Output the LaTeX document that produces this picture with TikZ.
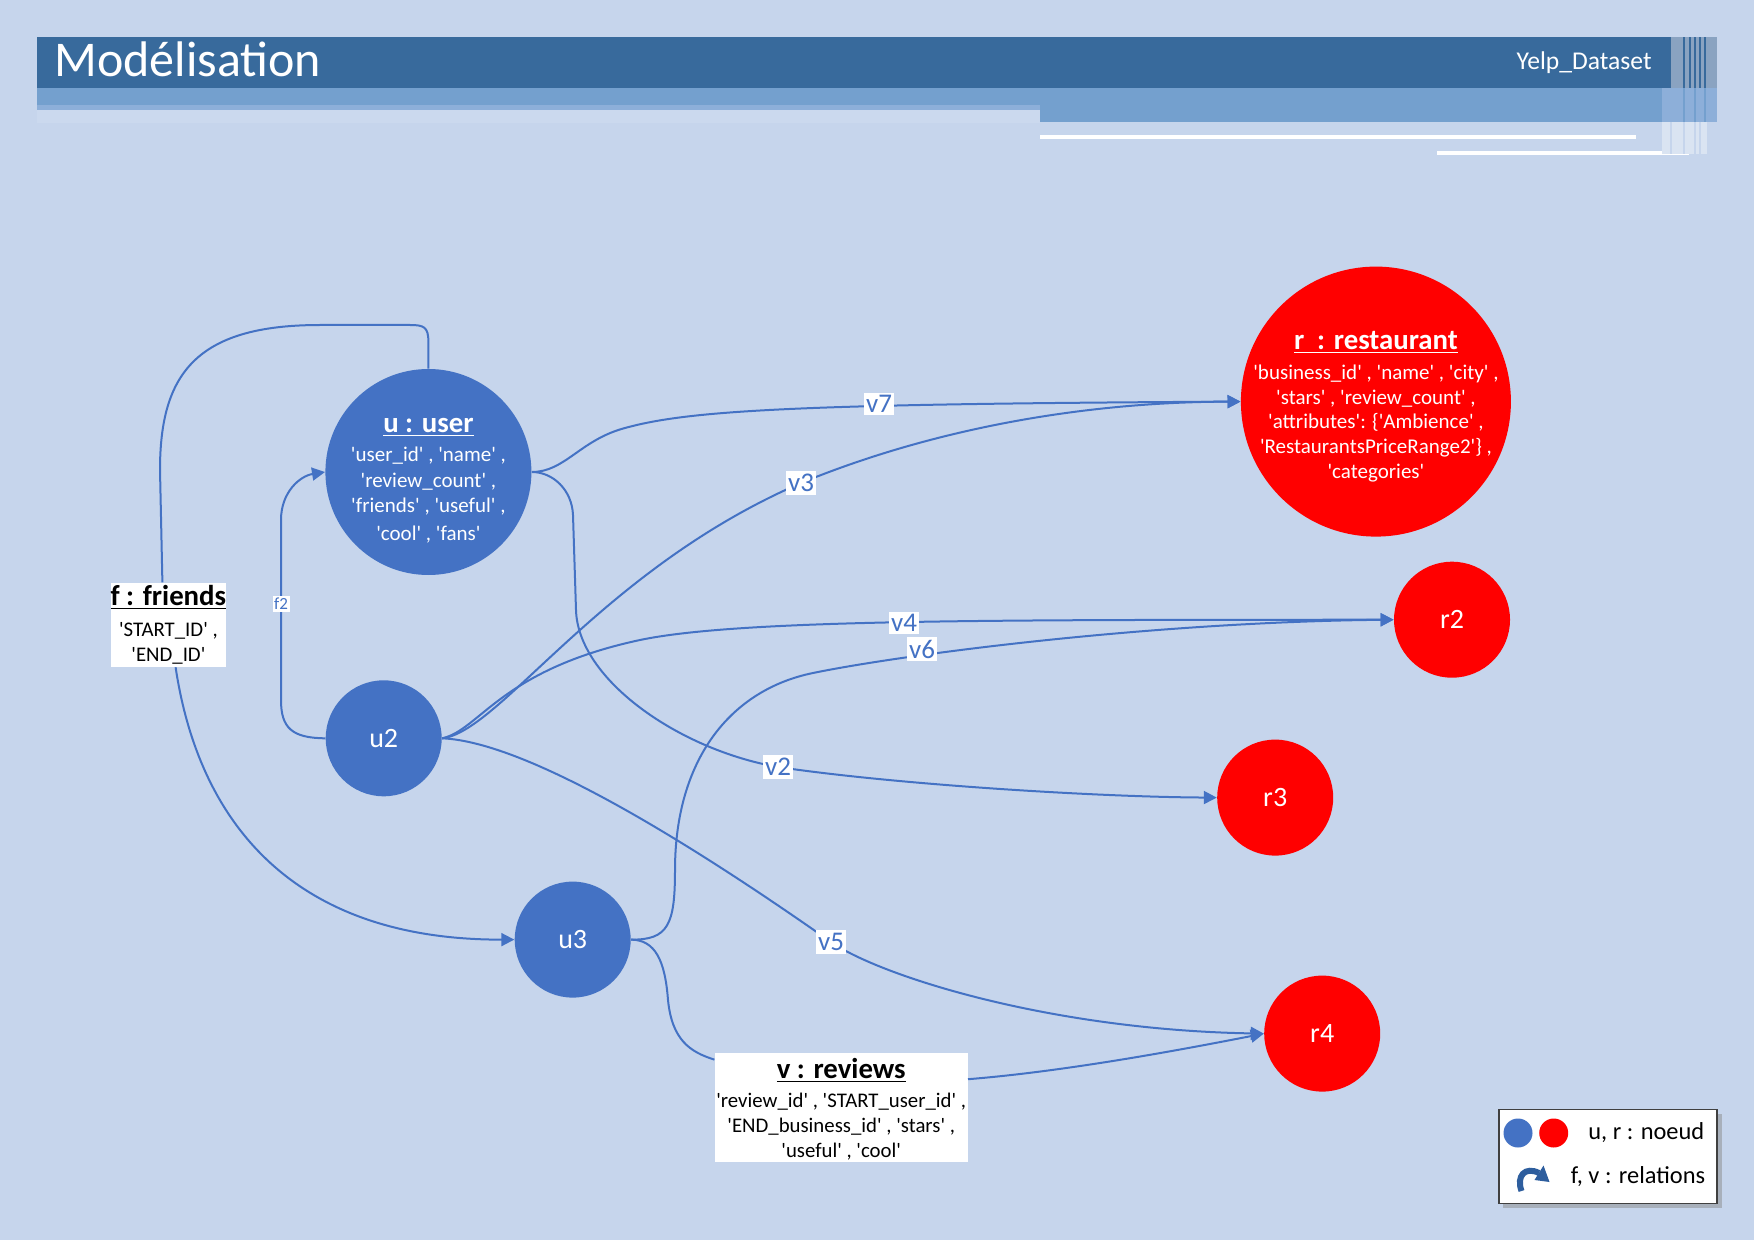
\documentclass[tikz,border=0pt]{standalone}
\usepackage{fontspec}
\setmainfont{Carlito}
\usetikzlibrary{arrows.meta}
\definecolor{bg}{HTML}{C6D5EC}
\definecolor{hdark}{HTML}{386A9C}
\definecolor{hmid}{HTML}{74A0CE}
\definecolor{hthin}{HTML}{8DAFD9}
\definecolor{hlight}{HTML}{CBD9EE}
\definecolor{stripe}{HTML}{8AA3C1}
\definecolor{stripelight}{HTML}{DAE4F2}
\definecolor{ublue}{HTML}{4472C4}
\definecolor{rred}{HTML}{FF0000}
\definecolor{ecol}{HTML}{4472C4}
\definecolor{iconcol}{HTML}{2E5E9E}
\newcommand{\squote}[1]{\textquotesingle#1\textquotesingle}
\newcommand{\mytitle}[1]{{\fontsize{14.4}{17}\selectfont\bfseries\underline{#1}}}
\tikzset{
  unode/.style={circle, fill=ublue, text=white, inner sep=-4pt, align=center, font=\fontsize{10.5}{12.8}\selectfont},
  rnode/.style={circle, fill=rred, text=white, inner sep=-8pt, align=center, font=\fontsize{10.5}{12.35}\selectfont},
  smallnode/.style={circle, inner sep=0pt, minimum size=58pt, text=white, font=\fontsize{14}{16}\selectfont},
  boxnode/.style={rectangle, fill=white, text=black, inner sep=0pt, align=center, font=\fontsize{10.4}{12.6}\selectfont},
  elabel/.style={fill=white, text=ecol, inner xsep=1.2pt, inner ysep=1.4pt, font=\fontsize{13.5}{15}\selectfont},
  rel/.style={draw=ecol, line width=1pt},
  arr/.style={rel, -{Triangle[length=6.5pt,width=6.5pt]}},
  legtext/.style={anchor=west, inner sep=0pt, text=black, font=\fontsize{12.2}{14}\selectfont}
}
\begin{document}
\begin{tikzpicture}[x=0.5pt,y=-0.5pt]
\useasboundingbox (0,0) rectangle (1754,1240);
\fill[bg] (0,0) rectangle (1754,1240);

% header
\fill[hdark] (37,37) rectangle (1717,88);
\fill[hmid] (37,88) rectangle (1717,105);
\fill[hmid] (1040,105) rectangle (1717,122.5);
\fill[hthin] (37,105) rectangle (1040,110);
\fill[hlight] (37,110) rectangle (1040,123);
\fill[white] (1040,135) rectangle (1636,139.5);
\fill[white] (1437,151.5) rectangle (1689,155.5);
\fill[stripe] (1670.7,37) rectangle (1717,88);
\foreach \sx in {1683,1689,1694,1699,1704}{\fill[hdark] (\sx,37) rectangle (\sx+2,88);}
\fill[hthin] (1662,88) rectangle (1717,122.5);
\foreach \sx in {1683,1694,1704}{\fill[hmid] (\sx,88) rectangle (\sx+2,122.5);}
\fill[stripelight] (1662,122.5) rectangle (1707,154);
\foreach \sx in {1670,1683,1694,1699}{\fill[bg] (\sx,122.5) rectangle (\sx+2,154);}
\node[anchor=base west, inner sep=0pt, text=white, font=\fontsize{25}{28}\selectfont] (title) at (54,76.7) {Modélisation};
\node[anchor=base east, inner sep=0pt, text=white, font=\fontsize{12.8}{15}\selectfont] (yelp) at (1652,70) {Yelp\_Dataset};

% nodes
\node[unode, minimum size=103pt] (u) at (428.4,472) {\rule{0pt}{16pt}\mytitle{u : user}\\[1.8pt]
\squote{user\_id} , \squote{name} ,\\
\squote{review\_count} ,\\
\squote{friends} , \squote{useful} ,\\[1.2pt]
\squote{cool} , \squote{fans}};
\node[smallnode, fill=ublue] (u2) at (383.7,738.3) {u2};
\node[smallnode, fill=ublue] (u3) at (572.7,939.6) {u3};
\node[rnode, minimum size=135pt] (r) at (1375.9,401.6) {\rule{0pt}{14pt}\mytitle{r\ \ : restaurant}\\[2.6pt]
\squote{business\_id} , \squote{name} , \squote{city} ,\\
\squote{stars} , \squote{review\_count} ,\\
\squote{attributes}: \{\squote{Ambience} ,\\
\squote{RestaurantsPriceRange2}\} ,\\
\squote{categories}};
\node[smallnode, fill=rred] (r2) at (1452,619.7) {r2};
\node[smallnode, fill=rred] (r3) at (1275.2,797.6) {r3};
\node[smallnode, fill=rred] (r4) at (1322.2,1033.6) {r4};

\node[boxnode, minimum width=57.5pt, minimum height=42pt] (fbox) at (168.4,624.8)
  {\mytitle{f : friends}\\[2.7pt]\squote{START\_ID} ,\\ \squote{END\_ID}};
\node[boxnode, minimum width=126.4pt, minimum height=54.8pt] (vbox) at (841.2,1107.4)
  {\rule{0pt}{12pt}\mytitle{v : reviews}\\[1.9pt]\squote{review\_id} , \squote{START\_user\_id} ,\\
   \squote{END\_business\_id} , \squote{stars} ,\\ \squote{useful} , \squote{cool}};

% friends relation
\draw[rel] (u.north) -- (428.4,342) .. controls (428.4,327) and (424,325) .. (410,325)
  -- (320,325) .. controls (195,325) and (160,375) .. (160,470) -- ([xshift=-3pt]fbox.north);
\draw[arr] ([xshift=3.6pt]fbox.south) .. controls (200,830) and (300,940) .. (u3.west);
% f2
\draw[arr] (u2.west) .. controls (292,738) and (281,728) .. (281,700) -- (281,520)
  .. controls (281,492) and (300,476) .. (u.west);
% v7
\draw[arr] (u.east) .. controls (565,472) and (580,440) .. (625,428)
  .. controls (690,410) and (800,404) .. (r.west);
% v3
\draw[arr] (u2.east) .. controls (500,732) and (600,570) .. (801,483)
  .. controls (930,430) and (1080,402) .. (r.west);
% v4
\draw[arr] (u2.east) .. controls (480,730) and (500,670) .. (640,640)
  .. controls (740,619) and (1000,620) .. (r2.west);
% v6
\draw[arr] (u3.east) .. controls (668,940) and (675,925) .. (675,870)
  .. controls (675,760) and (730,690) .. (813,673)
  .. controls (900,655) and (1150,622) .. (r2.west);
% v2
\draw[arr] (u.east) .. controls (553,472) and (572,490) .. (573,515) -- (576,610)
  .. controls (578,680) and (680,750) .. (778,767)
  .. controls (900,785) and (1100,797) .. (r3.west);
% v5
\draw[arr] (u2.east) .. controls (530,742) and (700,850) .. (831,942)
  .. controls (880,976) and (1050,1030) .. (r4.west);
% reviews relation
\draw[rel] (u3.east) .. controls (655,940) and (665,960) .. (668,1000)
  .. controls (672,1040) and (690,1052) .. ([yshift=-3.7pt]vbox.north west);
\draw[arr] ([yshift=-13.5pt]vbox.north east) .. controls (1070,1071) and (1190,1048) .. (r4.west);

% edge labels
\node[elabel, font=\fontsize{8.5}{9}\selectfont, inner xsep=0.8pt, inner ysep=1pt] (lf2) at (281,604) {f2};
\node[elabel] (lv7) at (879,404) {v7};
\node[elabel] (lv3) at (801,483) {v3};
\node[elabel] (lv4) at (904,623) {v4};
\node[elabel] (lv6) at (922,649) {v6};
\node[elabel] (lv2) at (778,767) {v2};
\node[elabel] (lv5) at (831,942) {v5};

% legend
\fill[black!45, opacity=0.5] (1503,1114) rectangle (1722,1208);
\node[draw=black!75, line width=0.7pt, fill=white, minimum width=109pt, minimum height=47pt, inner sep=0pt] (leg) at (1608,1156.6) {};
\node[circle, fill=ublue, minimum size=14.5pt, inner sep=0pt] (legu) at (1518,1133) {};
\node[circle, fill=rred, minimum size=14.5pt, inner sep=0pt] (legr) at (1553.7,1133) {};
\node[legtext] (legt1) at (1588,1133) {u, r : noeud};
\node[legtext] (legt2) at (1570.5,1177) {f, v : relations};
\draw[iconcol, line width=3pt] (1521.5,1191) .. controls (1516,1176) and (1525,1166) .. (1539,1173);
\fill[iconcol] (1543.5,1165.5) -- (1549.5,1182) -- (1534.5,1180) -- cycle;
\end{tikzpicture}
\end{document}
